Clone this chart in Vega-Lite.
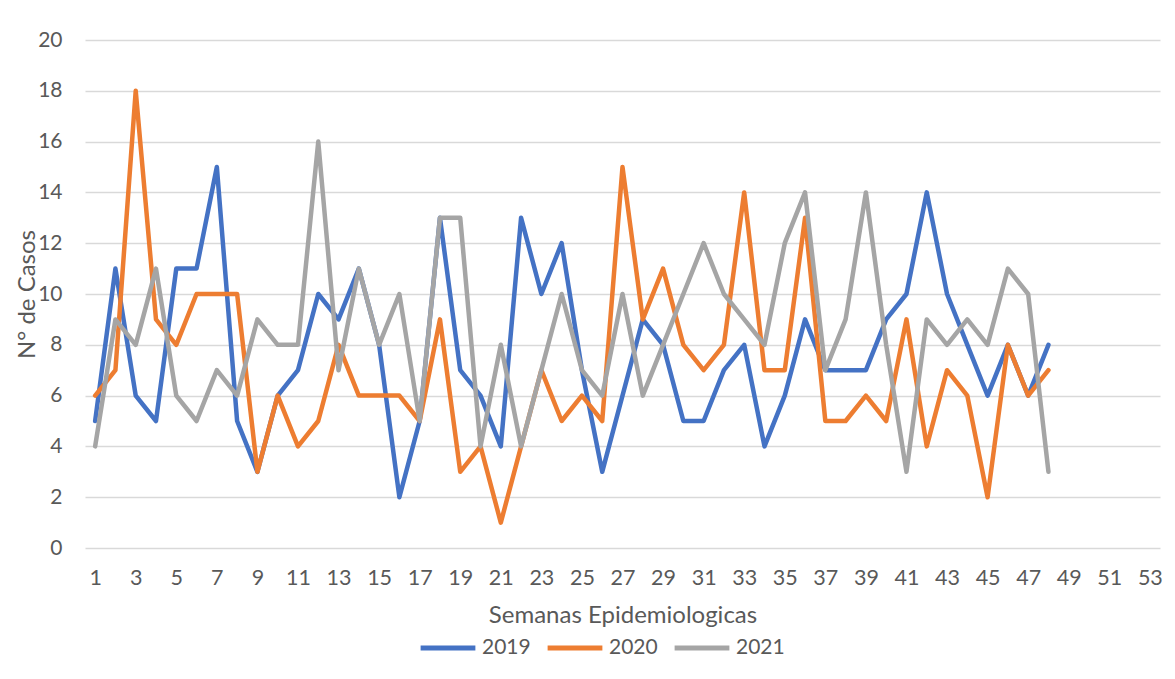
{
  "$schema": "https://vega.github.io/schema/vega-lite/v6.json",
  "autosize": {"type": "none"},
  "width": 1075,
  "height": 508,
  "padding": {"left": 85, "top": 40, "right": 15, "bottom": 131},
  "background": "white",
  "config": {
    "font": "Lato",
    "view": {"stroke": null},
    "axis": {"labelColor": "#595959", "titleColor": "#595959", "labelFont": "Lato", "titleFont": "Lato", "titleFontWeight": "normal"}
  },
  "data": {
    "values": [
      {"semana":1,"anio":"2019","casos":5},{"semana":2,"anio":"2019","casos":11},{"semana":3,"anio":"2019","casos":6},{"semana":4,"anio":"2019","casos":5},{"semana":5,"anio":"2019","casos":11},{"semana":6,"anio":"2019","casos":11},{"semana":7,"anio":"2019","casos":15},{"semana":8,"anio":"2019","casos":5},{"semana":9,"anio":"2019","casos":3},{"semana":10,"anio":"2019","casos":6},
      {"semana":11,"anio":"2019","casos":7},{"semana":12,"anio":"2019","casos":10},{"semana":13,"anio":"2019","casos":9},{"semana":14,"anio":"2019","casos":11},{"semana":15,"anio":"2019","casos":8},{"semana":16,"anio":"2019","casos":2},{"semana":17,"anio":"2019","casos":5},{"semana":18,"anio":"2019","casos":13},{"semana":19,"anio":"2019","casos":7},{"semana":20,"anio":"2019","casos":6},
      {"semana":21,"anio":"2019","casos":4},{"semana":22,"anio":"2019","casos":13},{"semana":23,"anio":"2019","casos":10},{"semana":24,"anio":"2019","casos":12},{"semana":25,"anio":"2019","casos":7},{"semana":26,"anio":"2019","casos":3},{"semana":27,"anio":"2019","casos":6},{"semana":28,"anio":"2019","casos":9},{"semana":29,"anio":"2019","casos":8},{"semana":30,"anio":"2019","casos":5},
      {"semana":31,"anio":"2019","casos":5},{"semana":32,"anio":"2019","casos":7},{"semana":33,"anio":"2019","casos":8},{"semana":34,"anio":"2019","casos":4},{"semana":35,"anio":"2019","casos":6},{"semana":36,"anio":"2019","casos":9},{"semana":37,"anio":"2019","casos":7},{"semana":38,"anio":"2019","casos":7},{"semana":39,"anio":"2019","casos":7},{"semana":40,"anio":"2019","casos":9},
      {"semana":41,"anio":"2019","casos":10},{"semana":42,"anio":"2019","casos":14},{"semana":43,"anio":"2019","casos":10},{"semana":44,"anio":"2019","casos":8},{"semana":45,"anio":"2019","casos":6},{"semana":46,"anio":"2019","casos":8},{"semana":47,"anio":"2019","casos":6},{"semana":48,"anio":"2019","casos":8},

      {"semana":1,"anio":"2020","casos":6},{"semana":2,"anio":"2020","casos":7},{"semana":3,"anio":"2020","casos":18},{"semana":4,"anio":"2020","casos":9},{"semana":5,"anio":"2020","casos":8},{"semana":6,"anio":"2020","casos":10},{"semana":7,"anio":"2020","casos":10},{"semana":8,"anio":"2020","casos":10},{"semana":9,"anio":"2020","casos":3},{"semana":10,"anio":"2020","casos":6},
      {"semana":11,"anio":"2020","casos":4},{"semana":12,"anio":"2020","casos":5},{"semana":13,"anio":"2020","casos":8},{"semana":14,"anio":"2020","casos":6},{"semana":15,"anio":"2020","casos":6},{"semana":16,"anio":"2020","casos":6},{"semana":17,"anio":"2020","casos":5},{"semana":18,"anio":"2020","casos":9},{"semana":19,"anio":"2020","casos":3},{"semana":20,"anio":"2020","casos":4},
      {"semana":21,"anio":"2020","casos":1},{"semana":22,"anio":"2020","casos":4},{"semana":23,"anio":"2020","casos":7},{"semana":24,"anio":"2020","casos":5},{"semana":25,"anio":"2020","casos":6},{"semana":26,"anio":"2020","casos":5},{"semana":27,"anio":"2020","casos":15},{"semana":28,"anio":"2020","casos":9},{"semana":29,"anio":"2020","casos":11},{"semana":30,"anio":"2020","casos":8},
      {"semana":31,"anio":"2020","casos":7},{"semana":32,"anio":"2020","casos":8},{"semana":33,"anio":"2020","casos":14},{"semana":34,"anio":"2020","casos":7},{"semana":35,"anio":"2020","casos":7},{"semana":36,"anio":"2020","casos":13},{"semana":37,"anio":"2020","casos":5},{"semana":38,"anio":"2020","casos":5},{"semana":39,"anio":"2020","casos":6},{"semana":40,"anio":"2020","casos":5},
      {"semana":41,"anio":"2020","casos":9},{"semana":42,"anio":"2020","casos":4},{"semana":43,"anio":"2020","casos":7},{"semana":44,"anio":"2020","casos":6},{"semana":45,"anio":"2020","casos":2},{"semana":46,"anio":"2020","casos":8},{"semana":47,"anio":"2020","casos":6},{"semana":48,"anio":"2020","casos":7},

      {"semana":1,"anio":"2021","casos":4},{"semana":2,"anio":"2021","casos":9},{"semana":3,"anio":"2021","casos":8},{"semana":4,"anio":"2021","casos":11},{"semana":5,"anio":"2021","casos":6},{"semana":6,"anio":"2021","casos":5},{"semana":7,"anio":"2021","casos":7},{"semana":8,"anio":"2021","casos":6},{"semana":9,"anio":"2021","casos":9},{"semana":10,"anio":"2021","casos":8},
      {"semana":11,"anio":"2021","casos":8},{"semana":12,"anio":"2021","casos":16},{"semana":13,"anio":"2021","casos":7},{"semana":14,"anio":"2021","casos":11},{"semana":15,"anio":"2021","casos":8},{"semana":16,"anio":"2021","casos":10},{"semana":17,"anio":"2021","casos":5},{"semana":18,"anio":"2021","casos":13},{"semana":19,"anio":"2021","casos":13},{"semana":20,"anio":"2021","casos":4},
      {"semana":21,"anio":"2021","casos":8},{"semana":22,"anio":"2021","casos":4},{"semana":23,"anio":"2021","casos":7},{"semana":24,"anio":"2021","casos":10},{"semana":25,"anio":"2021","casos":7},{"semana":26,"anio":"2021","casos":6},{"semana":27,"anio":"2021","casos":10},{"semana":28,"anio":"2021","casos":6},{"semana":29,"anio":"2021","casos":8},{"semana":30,"anio":"2021","casos":10},
      {"semana":31,"anio":"2021","casos":12},{"semana":32,"anio":"2021","casos":10},{"semana":33,"anio":"2021","casos":9},{"semana":34,"anio":"2021","casos":8},{"semana":35,"anio":"2021","casos":12},{"semana":36,"anio":"2021","casos":14},{"semana":37,"anio":"2021","casos":7},{"semana":38,"anio":"2021","casos":9},{"semana":39,"anio":"2021","casos":14},{"semana":40,"anio":"2021","casos":8},
      {"semana":41,"anio":"2021","casos":3},{"semana":42,"anio":"2021","casos":9},{"semana":43,"anio":"2021","casos":8},{"semana":44,"anio":"2021","casos":9},{"semana":45,"anio":"2021","casos":8},{"semana":46,"anio":"2021","casos":11},{"semana":47,"anio":"2021","casos":10},{"semana":48,"anio":"2021","casos":3}
    ]
  },
  "mark": {"type": "line", "strokeWidth": 4.5, "strokeCap": "round", "strokeJoin": "round"},
  "encoding": {
    "x": {
      "field": "semana",
      "type": "quantitative",
      "scale": {"domain": [0.5, 53.5], "nice": false, "zero": false},
      "axis": {
        "title": "Semanas Epidemiologicas",
        "values": [1,3,5,7,9,11,13,15,17,19,21,23,25,27,29,31,33,35,37,39,41,43,45,47,49,51,53],
        "grid": false,
        "domain": false,
        "ticks": false,
        "labelFontSize": 21.5,
        "labelPadding": 19,
        "titleFontSize": 24,
        "titlePadding": 15
      }
    },
    "y": {
      "field": "casos",
      "type": "quantitative",
      "scale": {"domain": [0, 20], "nice": false},
      "axis": {
        "title": "N° de Casos",
        "values": [0,2,4,6,8,10,12,14,16,18,20],
        "grid": true,
        "gridColor": "#D9D9D9",
        "gridWidth": 1.4,
        "domain": false,
        "ticks": false,
        "labelFontSize": 21,
        "labelPadding": 23,
        "titleFontSize": 24,
        "titlePadding": -2
      }
    },
    "color": {
      "field": "anio",
      "type": "nominal",
      "scale": {"domain": ["2019", "2020", "2021"], "range": ["#4472C4", "#ED7D31", "#A5A5A5"]},
      "legend": {
        "title": null,
        "orient": "none",
        "direction": "horizontal",
        "legendX": 333,
        "legendY": 578,
        "symbolType": "stroke",
        "symbolSize": 3000,
        "symbolStrokeWidth": 5,
        "labelFontSize": 21,
        "labelColor": "#595959",
        "labelOffset": 4,
        "columnPadding": 6
      }
    }
  }
}
